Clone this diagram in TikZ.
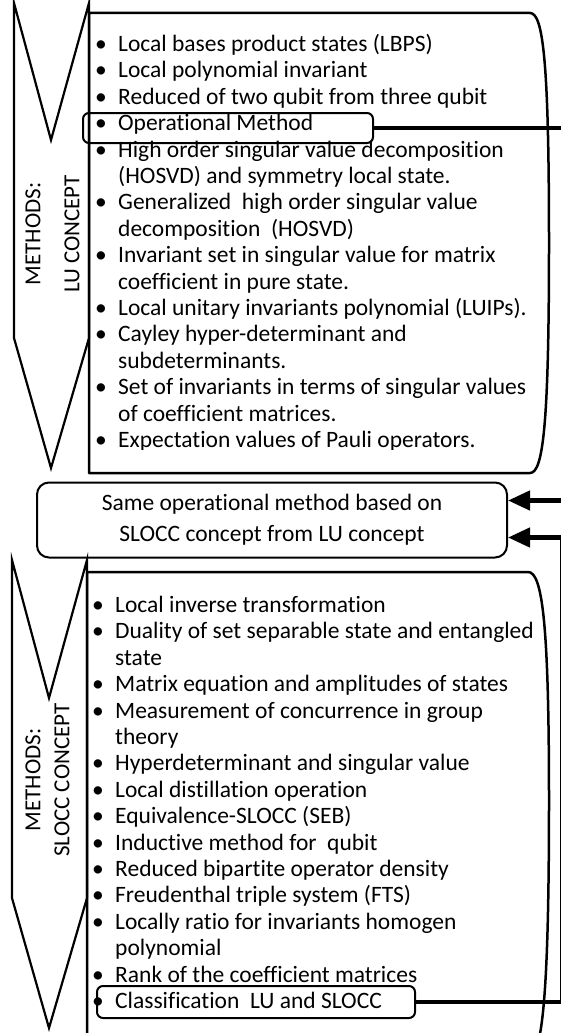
\documentclass[tikz,border=0pt]{standalone}
\usepackage{fontspec}
\setmainfont{Carlito}[Ligatures=NoCommon]
\usetikzlibrary{arrows.meta}

\newcommand\itm{\makebox[23pt][l]{\textbullet}}
\newcommand\cnt{\hspace*{23pt}}
% one node per printed line: prefix, x, first baseline, flag/text pairs
\newcommand\methodlist[4]{
        \foreach \flag/\txt [count=\i] in {#4} {
          \node [listline, name=#1\i] at (#2,{#3+26.4*(\i-1)}) {\ifnum\flag=1 \itm\else\cnt\fi\txt};
        }
}

\begin{document}
\begin{tikzpicture}[x=1pt, y=-1pt,
        bigbox/.style={line width=2.5pt, line join=round},
        chev/.style={line width=2.2pt, line join=miter},
        listline/.style={anchor=base west, inner sep=0pt, font=\fontsize{23.5}{26.4}\selectfont},
        sidelabel/.style={rotate=90, align=center, inner sep=0pt, font=\fontsize{23}{26}\selectfont},
        hibox/.style={draw, line width=2pt, rounded corners=6pt, inner sep=0pt},
        midbox/.style={draw, line width=2pt, rounded corners=12pt, align=center, inner sep=0pt,
          font=\fontsize{23.5}{26.4}\selectfont},
        conn/.style={line width=4.5pt, -{Triangle[length=22pt,width=19pt]}}
        ]
        \useasboundingbox (0,0) rectangle (561,1033);
        \clip (0,0) rectangle (561,1033);

        % LU part
        \draw [chev] (14,3) -- (51,140) -- (89,3) -- (89,338) -- (51,468) -- (14,338) -- cycle;
        \draw [bigbox] (89,13) -- (530,13) .. controls (543,13) and (549,60) .. (549,243)
          .. controls (549,426) and (543,473) .. (530,473) -- (89,473) -- cycle;
        \node (lulab) [sidelabel] at (52.5,234) {METHODS:\\[13pt]LU CONCEPT};
        \begin{scope}
          \clip (89,0) rectangle (561,449);
          \methodlist{lu}{95}{51.5}{1/Local bases product states (LBPS), 1/Local polynomial invariant,
            1/Reduced of two qubit from three qubit, 1/Operational Method,
            1/High order singular value decomposition, 0/(HOSVD) and symmetry local state.,
            1/Generalized~ high order singular value, 0/decomposition~ (HOSVD),
            1/Invariant set in singular value for matrix, 0/coefficient in pure state.,
            1/Local unitary invariants polynomial (LUIPs)., 1/Cayley hyper-determinant and,
            0/subdeterminants., 1/Set of invariants in terms of singular values,
            0/of coefficient matrices., 1/Expectation values of Pauli operators.}
        \end{scope}
        \node (opm) [hibox, minimum width=290, minimum height=30] at (228,128) {};

        % middle box
        \node (same) [midbox, minimum width=470, minimum height=75] at (272,520)
          {Same operational method based on\\[5pt]SLOCC concept from LU concept};

        % SLOCC part
        \draw [chev] (12,560) -- (49,698) -- (87,560) -- (87,898) -- (49,1028) -- (12,898) -- cycle;
        \draw [bigbox] (87,572) -- (528,572) .. controls (542,572) and (549,620) .. (549,800)
          .. controls (549,1000) and (542,1058) .. (528,1058) -- (87,1058) -- cycle;
        \node (sllab) [sidelabel] at (47.5,780) {METHODS:\\[3pt]SLOCC CONCEPT};
        \methodlist{sl}{92}{612.5}{1/Local inverse transformation,
          1/Duality of set separable state and entangled, 0/state,
          1/Matrix equation and amplitudes of states, 1/Measurement of concurrence in group,
          0/theory, 1/Hyperdeterminant and singular value, 1/Local distillation operation,
          1/Equivalence-SLOCC (SEB), 1/Inductive method for~ qubit,
          1/Reduced bipartite operator density, 1/Freudenthal triple system (FTS),
          1/Locally ratio for invariants homogen, 0/polynomial,
          1/Rank of the coefficient matrices, 1/Classification~ LU and SLOCC}
        \node (cls) [hibox, minimum width=318, minimum height=32] at (256,1002) {};

        % connectors
        \coordinate (rt1) at (575,300);
        \coordinate (rt2) at (562,800);
        \path (same.north east) ++(0,19) coordinate (in1);
        \path (same.south east) ++(0,-21) coordinate (in2);
        \draw [conn] (opm.east) -| (rt1) |- (in1);
        \draw [conn] (cls.east) -| (rt2) |- (in2);
\end{tikzpicture}
\end{document}
